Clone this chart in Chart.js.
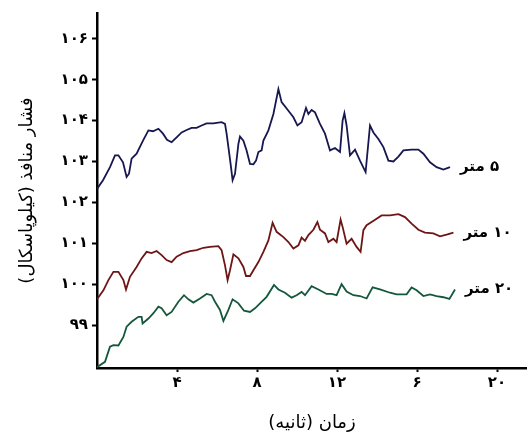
<!DOCTYPE html>
<html lang="fa">
<head>
<meta charset="utf-8">
<script src="https://cdn.jsdelivr.net/npm/chart.js@4.4.1/dist/chart.umd.min.js"></script>
<style>
  html, body { margin: 0; padding: 0; background: #fff; }
  #chart { display: block; }
</style>
</head>
<body>
<canvas id="chart" width="527" height="437"></canvas>
<script>
// عمق‌ها و رنگ‌ها
const seriesNames = ['۵ متر', '۱۰ متر', '۲۰ متر'];
const seriesColors = ['#17174f', '#6e1515', '#14583c'];

// برچسب‌های محورها (همان‌طور که در شکل آمده)
const yTicks = [99, 100, 101, 102, 103, 104, 105, 106];
const yTickLabels = ['۹۹', '۱۰۰', '۱۰۱', '۱۰۲', '۱۰۳', '۱۰۴', '۱۰۵', '۱۰۶'];
const xTicks = [4, 8, 12, 16, 20];
const xTickLabels = ['۴', '۸', '۱۲', '۶', '۲۰'];

// ۵ متر
const t5 = [0, 0.3, 0.65, 0.9, 1.07, 1.3, 1.48, 1.6, 1.73, 1.98, 2.3, 2.57, 2.8, 3.07, 3.3, 3.5, 3.73, 3.98, 4.23, 4.48,
  4.73, 4.98, 5.23, 5.48, 5.82, 6.23, 6.4, 6.48, 6.57, 6.68, 6.78, 6.9, 7.07, 7.15, 7.32, 7.48, 7.65, 7.82, 7.95, 8.07,
  8.23, 8.32, 8.57, 8.82, 9.07, 9.23, 9.57, 9.82, 10.02, 10.23, 10.45, 10.57, 10.73, 10.9, 11.15, 11.4, 11.65, 11.9, 12.15, 12.28,
  12.37, 12.48, 12.65, 12.9, 13.15, 13.43, 13.65, 13.82, 14.07, 14.32, 14.57, 14.82, 15.07, 15.32, 15.73, 16.07, 16.32, 16.65, 16.98, 17.32, 17.65];
const p5 = [102.33, 102.54, 102.86, 103.15, 103.15, 102.98, 102.62, 102.7, 103.07, 103.19, 103.51, 103.76, 103.74, 103.8, 103.68, 103.53, 103.47, 103.59, 103.71, 103.77,
  103.82, 103.82, 103.88, 103.93, 103.93, 103.96, 103.92, 103.68, 103.35, 102.94, 102.54, 102.7, 103.43, 103.61, 103.51, 103.27, 102.94, 102.93, 103.02, 103.23,
  103.27, 103.51, 103.76, 104.16, 104.77, 104.45, 104.24, 104.08, 103.88, 103.96, 104.31, 104.16, 104.26, 104.2, 103.92, 103.68, 103.27, 103.33, 103.23, 104.0,
  104.18, 103.88, 103.15, 103.29, 103.02, 102.74, 103.88, 103.71, 103.55, 103.35, 103.02, 103.0, 103.12, 103.27, 103.29, 103.29, 103.19, 102.98, 102.86, 102.8, 102.86];

// ۱۰ متر
const t10 = [0, 0.32, 0.57, 0.82, 1.07, 1.32, 1.45, 1.65, 1.98, 2.23, 2.48, 2.73, 2.98, 3.23, 3.48, 3.73, 3.98, 4.32, 4.65, 4.98,
  5.32, 5.65, 6.07, 6.23, 6.4, 6.53, 6.65, 6.82, 7.07, 7.32, 7.45, 7.65, 7.82, 8.07, 8.32, 8.57, 8.78, 8.98, 9.32, 9.57,
  9.82, 10.07, 10.23, 10.4, 10.57, 10.82, 11.02, 11.15, 11.4, 11.57, 11.82, 11.98, 12.18, 12.28, 12.48, 12.73, 12.98, 13.18, 13.32, 13.48,
  13.73, 13.98, 14.23, 14.65, 15.07, 15.4, 15.73, 16.07, 16.4, 16.82, 17.15, 17.48, 17.82];
const p10 = [99.63, 99.85, 100.1, 100.3, 100.3, 100.1, 99.87, 100.18, 100.42, 100.63, 100.79, 100.76, 100.81, 100.71, 100.59, 100.54, 100.67, 100.76, 100.81, 100.83,
  100.89, 100.91, 100.93, 100.83, 100.46, 100.1, 100.34, 100.73, 100.63, 100.42, 100.2, 100.2, 100.34, 100.54, 100.79, 101.07, 101.5, 101.28, 101.15, 101.03,
  100.87, 100.95, 101.14, 101.06, 101.2, 101.33, 101.52, 101.33, 101.24, 101.03, 101.11, 101.03, 101.58, 101.4, 100.99, 101.11, 100.91, 100.79, 101.32, 101.44,
  101.52, 101.6, 101.68, 101.68, 101.71, 101.64, 101.48, 101.33, 101.26, 101.24, 101.17, 101.21, 101.26];

// ۲۰ متر
const t20 = [0, 0.4, 0.65, 0.82, 1.07, 1.32, 1.48, 1.73, 2.07, 2.23, 2.28, 2.57, 2.82, 3.07, 3.23, 3.48, 3.73, 4.07, 4.35, 4.57,
  4.82, 5.15, 5.48, 5.73, 5.9, 6.15, 6.32, 6.57, 6.78, 7.07, 7.35, 7.65, 7.9, 8.15, 8.48, 8.85, 9.07, 9.4, 9.73, 9.98,
  10.23, 10.4, 10.73, 11.07, 11.48, 11.73, 11.98, 12.23, 12.48, 12.82, 13.15, 13.48, 13.78, 14.15, 14.65, 14.98, 15.48, 15.73, 15.98, 16.32,
  16.65, 16.98, 17.32, 17.62, 17.9];
const p20 = [97.97, 98.1, 98.47, 98.51, 98.5, 98.71, 98.96, 99.08, 99.2, 99.2, 99.04, 99.16, 99.29, 99.45, 99.41, 99.24, 99.32, 99.57, 99.73, 99.63,
  99.55, 99.65, 99.76, 99.73, 99.57, 99.37, 99.1, 99.37, 99.63, 99.53, 99.35, 99.32, 99.41, 99.53, 99.69, 99.98, 99.87, 99.79, 99.67, 99.73,
  99.81, 99.73, 99.95, 99.87, 99.76, 99.76, 99.73, 100.0, 99.82, 99.73, 99.71, 99.65, 99.92, 99.87, 99.79, 99.75, 99.75, 99.92, 99.85, 99.71,
  99.75, 99.71, 99.68, 99.64, 99.87];

const FONT = "'DejaVu Sans', sans-serif";
const RLM = '\u200F';

function toPoints(ts, ps) {
  return ts.map((t, i) => ({ x: t, y: ps[i] }));
}

// نام هر عمق کنار آخرین نقطه‌ی منحنی
const endLabels = {
  id: 'endLabels',
  afterDatasetsDraw(chart) {
    const ctx = chart.ctx;
    ctx.save();
    ctx.font = 'bold 15px ' + FONT;
    ctx.fillStyle = '#000';
    ctx.textAlign = 'left';
    ctx.textBaseline = 'middle';
    ctx.direction = 'rtl';
    chart.data.datasets.forEach((ds, i) => {
      const meta = chart.getDatasetMeta(i);
      const last = meta.data[meta.data.length - 1];
      if (!last) return;
      ctx.fillText(seriesNames[i], last.x + 10, last.y);
    });
    ctx.restore();
  }
};

const datasets = [
  toPoints(t5, p5),
  toPoints(t10, p10),
  toPoints(t20, p20)
].map((pts, i) => ({
  label: seriesNames[i],
  data: pts,
  borderColor: seriesColors[i],
  borderWidth: 1.8,
  pointRadius: 0,
  tension: 0,
  fill: false
}));

new Chart(document.getElementById('chart'), {
  type: 'line',
  data: { datasets },
  options: {
    responsive: false,
    animation: false,
    devicePixelRatio: 1,
    layout: { padding: { top: 12, right: 0, left: 0, bottom: 0 } },
    plugins: { legend: { display: false }, tooltip: { enabled: false } },
    scales: {
      x: {
        type: 'linear',
        min: 0,
        max: 21.5,
        afterBuildTicks: s => { s.ticks = xTicks.map(v => ({ value: v })); },
        afterFit: s => { s.height = 69; },
        grid: { drawOnChartArea: false, drawTicks: true, tickLength: 4, tickColor: '#000', tickWidth: 2 },
        border: { display: true, color: '#000', width: 2.5 },
        ticks: {
          color: '#000',
          font: { family: FONT, size: 15, weight: 'bold' },
          padding: 2,
          maxRotation: 0,
          callback: v => xTickLabels[xTicks.indexOf(v)]
        },
        title: {
          display: true,
          text: RLM + 'زمان (ثانیه)' + RLM,
          color: '#000',
          font: { family: FONT, size: 18 },
          padding: { top: 0, bottom: 3 }
        }
      },
      y: {
        type: 'linear',
        min: 97.95,
        max: 106.63,
        afterBuildTicks: s => { s.ticks = yTicks.map(v => ({ value: v })); },
        afterFit: s => { s.width = 97; },
        grid: { drawOnChartArea: false, drawTicks: true, tickLength: 5, tickColor: '#000', tickWidth: 2 },
        border: { display: true, color: '#000', width: 2.5 },
        ticks: {
          color: '#000',
          font: { family: FONT, size: 15, weight: 'bold' },
          padding: 4,
          callback: v => yTickLabels[yTicks.indexOf(v)]
        },
        title: {
          display: true,
          text: RLM + 'فشار منافذ (کیلوپاسکال)' + RLM,
          color: '#000',
          font: { family: FONT, size: 18 },
          padding: { top: 17, bottom: 0 }
        }
      }
    }
  },
  plugins: [endLabels]
});
</script>
</body>
</html>
